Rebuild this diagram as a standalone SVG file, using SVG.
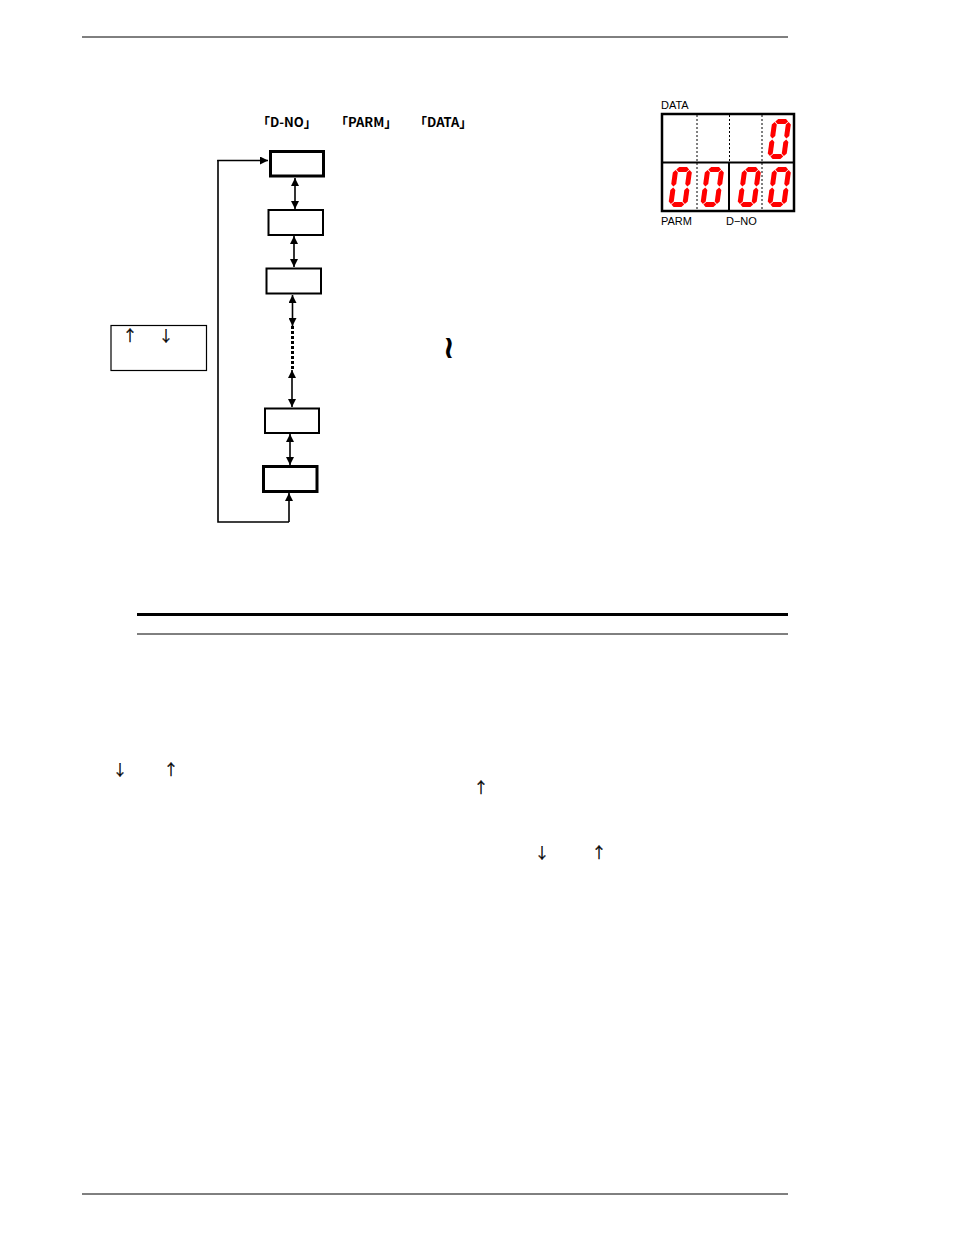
<svg xmlns="http://www.w3.org/2000/svg" width="954" height="1235" viewBox="0 0 954 1235">
<style>
.box{fill:#fff;stroke:#000;stroke-width:2}
.thick{stroke-width:3}
.ln{stroke:#000;stroke-width:1.6;fill:none}
.lbl{font-family:"Noto Sans CJK JP","DejaVu Sans",sans-serif;font-size:13px;font-weight:bold;fill:#000}
.seg{font-family:"Liberation Sans",Arial,sans-serif;font-size:11px;fill:#000}
.arr{font-family:"Noto Sans CJK JP","Liberation Sans",sans-serif;font-size:15px;fill:#000;stroke:#000;stroke-width:0.25;text-anchor:middle}
.r{fill:#f00}
</style>
<defs>
<marker id="ah" viewBox="0 0 10 10" refX="10" refY="5" markerWidth="5" markerHeight="5" orient="auto-start-reverse" markerUnits="strokeWidth">
<path d="M0,0 L10,5 L0,10 z" fill="#000"/>
</marker>
<g id="zero" class="r">
<polygon points="3.1,2.5 5.6,0 13.4,0 15.9,2.5 13.4,5 5.6,5"/>
<polygon points="3.1,37.5 5.6,35 13.4,35 15.9,37.5 13.4,40 5.6,40"/>
<polygon points="2.5,3.1 5,5.6 5,16.9 2.5,19.4 0,16.9 0,5.6"/>
<polygon points="16.5,3.1 19,5.6 19,16.9 16.5,19.4 14,16.9 14,5.6"/>
<polygon points="2.5,20.6 5,23.1 5,34.4 2.5,36.9 0,34.4 0,23.1"/>
<polygon points="16.5,20.6 19,23.1 19,34.4 16.5,36.9 14,34.4 14,23.1"/>
</g>
</defs>
<rect width="954" height="1235" fill="#fff"/>
<g id="page-rules">
<line x1="82" y1="37" x2="788" y2="37" stroke="#000" stroke-width="1"/>
<line x1="82" y1="1194" x2="788" y2="1194" stroke="#000" stroke-width="1"/>
<line x1="137" y1="614.5" x2="788" y2="614.5" stroke="#000" stroke-width="3"/>
<line x1="137" y1="634" x2="788" y2="634" stroke="#000" stroke-width="1"/>
</g>
<g id="headers">
<text class="lbl" x="257" y="127">「D-NO」</text>
<text class="lbl" x="335" y="127">「PARM」</text>
<text class="lbl" x="414" y="127">「DATA」</text>
</g>
<g id="connectors">
<line class="ln" x1="295" y1="178" x2="295" y2="209" marker-start="url(#ah)" marker-end="url(#ah)"/>
<line class="ln" x1="294" y1="236" x2="294" y2="267" marker-start="url(#ah)" marker-end="url(#ah)"/>
<line class="ln" x1="292.5" y1="295" x2="292.5" y2="326" marker-start="url(#ah)" marker-end="url(#ah)"/>
<line x1="292.5" y1="326" x2="292.5" y2="370" stroke="#000" stroke-width="3" stroke-dasharray="3,2"/>
<line class="ln" x1="292" y1="370" x2="292" y2="407" marker-start="url(#ah)" marker-end="url(#ah)"/>
<line class="ln" x1="290" y1="434" x2="290" y2="465" marker-start="url(#ah)" marker-end="url(#ah)"/>
<polyline class="ln" points="289,522 218,522 218,160"/>
<line class="ln" x1="289" y1="522" x2="289" y2="493" marker-end="url(#ah)"/>
<line class="ln" x1="217.2" y1="160.5" x2="268" y2="160.5" marker-end="url(#ah)"/>
</g>
<g id="node1"><rect class="box thick" x="270.5" y="151.5" width="53" height="24.5"/></g>
<g id="node2"><rect class="box" x="268.5" y="210" width="54.5" height="25"/></g>
<g id="node3"><rect class="box" x="266.5" y="268.5" width="54.5" height="25"/></g>
<g id="node4"><rect class="box" x="265" y="408.5" width="54" height="24.5"/></g>
<g id="node5"><rect class="box thick" x="263.5" y="466.5" width="53.5" height="25"/></g>
<g id="keybox">
<rect x="111" y="325.5" width="95.5" height="45" fill="#fff" stroke="#000" stroke-width="1.2"/>
<text class="arr" x="130" y="341">↑</text>
<text class="arr" x="166" y="341">↓</text>
</g>
<g id="tilde">
<text x="0" y="0" transform="translate(450,348) rotate(90)" font-family="DejaVu Sans,sans-serif" font-size="32" font-weight="bold" text-anchor="middle" dominant-baseline="central" fill="#000">~</text>
</g>
<g id="display">
<text class="seg" x="661" y="109">DATA</text>
<text class="seg" x="661" y="225">PARM</text>
<text class="seg" x="726" y="225">D−NO</text>
<rect x="662" y="114" width="132" height="97" fill="#fff" stroke="#000" stroke-width="2.5"/>
<line x1="662" y1="162.5" x2="794" y2="162.5" stroke="#000" stroke-width="2"/>
<line x1="697" y1="115" x2="697" y2="210" stroke="#000" stroke-width="1" stroke-dasharray="2,2"/>
<line x1="729.5" y1="115" x2="729.5" y2="162" stroke="#000" stroke-width="1" stroke-dasharray="2,2"/>
<line x1="729" y1="162" x2="729" y2="210" stroke="#000" stroke-width="2"/>
<line x1="762" y1="115" x2="762" y2="210" stroke="#000" stroke-width="1" stroke-dasharray="2,2"/>
<use href="#zero" transform="translate(772.6,119) skewX(-8)"/>
<use href="#zero" transform="translate(673.6,167) skewX(-8)"/>
<use href="#zero" transform="translate(705.6,167) skewX(-8)"/>
<use href="#zero" transform="translate(742.6,167) skewX(-8)"/>
<use href="#zero" transform="translate(772.6,167) skewX(-8)"/>
</g>
<g id="body-arrows">
<text class="arr" x="120" y="775">↓</text>
<text class="arr" x="171" y="775">↑</text>
<text class="arr" x="481" y="793">↑</text>
<text class="arr" x="542" y="858">↓</text>
<text class="arr" x="599" y="858">↑</text>
</g>
</svg>
